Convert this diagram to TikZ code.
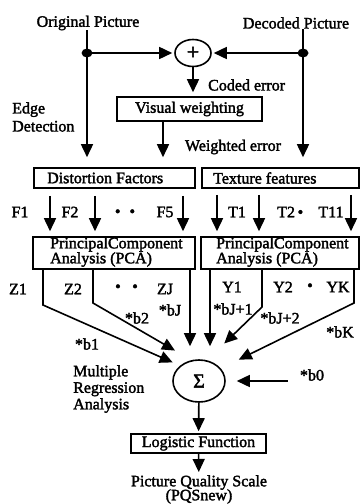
\documentclass[tikz,border=0pt]{standalone}
\usepackage{fontspec}
\setmainfont{Liberation Serif}[FakeBold=2]
\usetikzlibrary{arrows.meta,shapes.geometric}
\newcommand\pqsfont{\fontsize{16}{14}\selectfont\lineskiplimit=-30pt\relax}
\tikzset{
  every node/.style={inner sep=0pt, font=\fontsize{16}{17}\selectfont},
  arr/.style={-{Triangle[length=13pt,width=12pt]}, line width=1.6pt},
  box/.style={draw, line width=1.6pt, inner sep=0pt},
  blob/.style={ellipse, draw, line width=1.6pt},
  junc/.style={ellipse, fill, minimum width=11pt, minimum height=9pt},
  pcafont/.style={align=left, font=\fontsize{16}{15}\selectfont}
}
\begin{document}
\begin{tikzpicture}[x=1pt,y=-1pt]
\useasboundingbox (0,0) rectangle (360,504);
% titles
\node (orig) at (88,23) {Original Picture};
\node (dec) at (296,23) {Decoded Picture};
\coordinate (dotL) at (87,53);
\coordinate (dotR) at (303,53);
\node[blob, minimum width=36pt, minimum height=27pt] (plus) at (193,53) {\fontsize{22}{22}\selectfont +};
\node[anchor=west] (coded) at (208,85) {Coded error};
\node[box, minimum width=145pt, minimum height=24pt] (vw) at (189.5,109) {Visual weighting};
\node[anchor=west, align=left, font=\fontsize{16}{18}\selectfont] (edgelbl) at (12,117) {Edge\\Detection};
\node (wtd) at (233,147) {Weighted error};
% feature boxes (frame + text)
\node[box, minimum width=161pt, minimum height=20pt] (dist) at (114.5,178) {};
\node[anchor=west] (distT) at (47,178) {Distortion Factors};
\node[box, minimum width=157pt, minimum height=20pt] (tex) at (280.5,178) {};
\node[anchor=west] (texT) at (213,178) {Texture features};
% PCA boxes
\node[box, minimum width=162pt, minimum height=32pt] (pcaL) at (114,253) {};
\node[anchor=west, pcafont] (pcaLT) at (50,252) {PrincipalComponent\\Analysis (PCA)};
\node[box, minimum width=158pt, minimum height=32pt] (pcaR) at (280,253) {};
\node[anchor=west, pcafont] (pcaRT) at (216,252) {PrincipalComponent\\Analysis (PCA)};
% sigma, logistic, output
\node[blob, minimum width=52pt, minimum height=42pt] (sig) at (199,381) {\fontsize{20}{20}\selectfont Σ};
\node[anchor=west, align=left, font=\fontsize{16}{16.5}\selectfont] (mra) at (73,389) {Multiple\\Regression\\Analysis};
\node (b0) at (312,375) {*b0};
\node[box, minimum width=135pt, minimum height=19pt] (logi) at (198.5,443.5) {Logistic Function};
\node[anchor=north, align=center, font=\pqsfont] (pqs) at (199,475) {Picture Quality Scale\\(PQSnew)};

% F / T labels
\node (lF1) at (20,212) {F1};
\node (lF2) at (70,212) {F2};
\node (lFd) at (125,213) {\textbullet\hspace{9pt}\textbullet};
\node (lF5) at (165,212) {F5};
\node (lT1) at (237,212) {T1};
\node[anchor=west] (lT2) at (277,212) {T2\,\textbullet};
\node (lT11) at (331,212) {T11};
% Z / Y labels
\node (lZ1) at (18,289) {Z1};
\node (lZ2) at (73,289) {Z2};
\node (lZd) at (126.5,288) {\textbullet\hspace{11.5pt}\textbullet};
\node (lZJ) at (165,289) {ZJ};
\node (lY1) at (232,287) {Y1};
\node (lY2) at (283,287) {Y2};
\node (lYd) at (310,287) {\textbullet};
\node (lYK) at (338,287) {YK};
% weight labels
\node (lb1) at (87,344) {*b1};
\node (lb2) at (137,318) {*b2};
\node (lbJ) at (170,310) {*bJ};
\node (lbJa) at (233,309) {*bJ+1};
\node (lbJb) at (280,318) {*bJ+2};
\node (lbK) at (340,332) {*bK};

% x positions of the feature arrows
\coordinate (xW) at (163,0);
\coordinate (xF1) at (50,0);
\coordinate (xF2) at (95,0);
\coordinate (xF5) at (183,0);
\coordinate (xT1) at (217,0);
\coordinate (xT2) at (259,0);
\coordinate (xT11) at (351,0);
\coordinate (xZJ) at (190,0);
\coordinate (xY1) at (210,0);
% bends
\coordinate (bZ1) at (43,305);
\coordinate (bZ2) at (93,303);
\coordinate (bY2) at (262,307);
\coordinate (bYK) at (354,303);

% top connectors
\draw[arr, shorten >=10pt] (orig.south -| dotL) -- (dotL |- dist.north);
\draw[arr, shorten >=10pt] (dec.south -| dotR) -- (dotR |- tex.north);
\draw[arr, shorten >=2pt] (dotL) -- (plus);
\draw[arr, shorten >=2pt] (dotR) -- (plus);
\node[junc] (jL) at (dotL) {};
\node[junc] (jR) at (dotR) {};
\draw[arr, shorten >=4pt] (plus) -- (plus |- vw.north);
\draw[arr, shorten >=10pt] (vw.south -| xW) -- (xW |- dist.north);

% feature arrows
\foreach \c in {xF1,xF2,xF5}
  \draw[arr, shorten <=7pt, shorten >=5pt] (dist.south -| \c) -- (\c |- pcaL.north);
\foreach \c in {xT1,xT2,xT11}
  \draw[arr, shorten <=6pt, shorten >=5pt] (tex.south -| \c) -- (\c |- pcaR.north);

% regression inputs
\draw[arr, shorten >=8pt] (pcaL.south -| bZ1) -- (bZ1) -- (sig.141);
\draw[arr, shorten >=19pt] (pcaL.south -| bZ2) -- (bZ2) -- (sig.110);
\draw[arr, shorten >=13pt] (pcaL.south -| xZJ) -- (xZJ |- sig.north);
\draw[arr, shorten >=13pt] (pcaR.south -| xY1) -- (xY1 |- sig.north);
\draw[arr, shorten >=24pt] (pcaR.south -| bY2) -- (bY2) -- (sig.69);
\draw[arr, shorten >=20pt] (pcaR.south -| bYK) -- (bYK) -- (sig.30);
\draw[arr, shorten <=12pt, shorten >=11pt] (b0.west |- sig.east) -- (sig.east);

% output
\draw[arr, shorten >=2pt] (sig) -- (logi);
\draw[arr, shorten >=3pt] (logi) -- (pqs);
\end{tikzpicture}
\end{document}
